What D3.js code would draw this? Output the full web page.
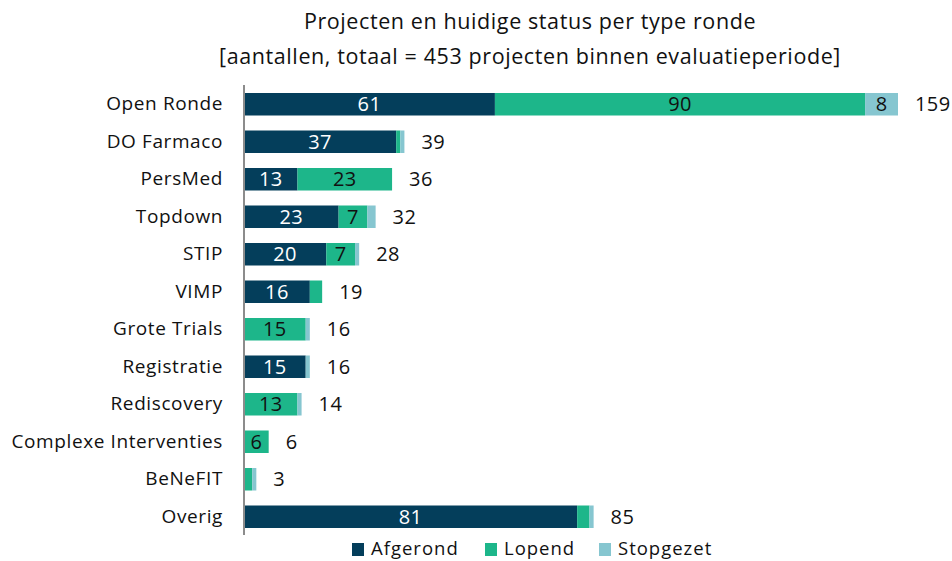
<!DOCTYPE html>
<html><head><meta charset="utf-8">
<script src="https://cdn.jsdelivr.net/npm/d3@7"></script>
<style>body{margin:0;background:#fff}svg{display:block}</style>
</head><body>
<svg id="c" width="952" height="561"></svg>
<script>
const categories = ["Open Ronde","DO Farmaco","PersMed","Topdown","STIP","VIMP","Grote Trials","Registratie","Rediscovery","Complexe Interventies","BeNeFIT","Overig"];
const afgerond  = [61,37,13,23,20,16,0,15,0,0,0,81];
const lopend    = [90,1,23,7,7,3,15,0,13,6,2,3];
const stopgezet = [8,1,0,2,1,0,1,1,1,0,1,1];
const seriesNames = ["Afgerond","Lopend","Stopgezet"];
const colors = ["#043e5b","#1db68a","#86c6d0"];
const labelColors = ["#ffffff","#111111","#111111"];
const titleLines = ["Projecten en huidige status per type ronde","[aantallen, totaal = 453 projecten binnen evaluatieperiode]"];

const font = "'Open Sans', sans-serif";
const svg = d3.select("#c");
const rows = categories.map((c,i)=>({cat:c, Afgerond:afgerond[i], Lopend:lopend[i], Stopgezet:stopgezet[i]}));
const stack = d3.stack().keys(seriesNames)(rows);

const x = d3.scaleLinear().domain([0,159]).range([244,898]);
const y = d3.scaleBand().domain(categories).range([85.5,535.5]).paddingInner(0.4).paddingOuter(0.2);

svg.append("g").selectAll("text").data(titleLines).join("text")
  .attr("x",530).attr("y",(d,i)=>29+i*35).attr("text-anchor","middle")
  .attr("font-family",font).attr("font-size",21.5).attr("letter-spacing",0.6)
  .attr("fill","#111").text(d=>d);

stack.forEach((s,si)=>{
  const g = svg.append("g");
  g.selectAll("rect").data(s).join("rect")
    .attr("x",d=>x(d[0])).attr("width",d=>Math.max(0,x(d[1])-x(d[0])))
    .attr("y",(d,i)=>y(categories[i])).attr("height",y.bandwidth())
    .attr("fill",colors[si]);
  g.selectAll("text").data(s.filter(d=>d[1]-d[0]>=5)).join("text")
    .attr("x",d=>(x(d[0])+x(d[1]))/2)
    .attr("y",d=>y(d.data.cat)+y.bandwidth()/2).attr("dy","0.36em")
    .attr("text-anchor","middle").attr("font-family",font).attr("font-size",20)
    .attr("letter-spacing",0.4)
    .attr("fill",labelColors[si]).text(d=>d[1]-d[0]);
});

// totals
svg.append("g").selectAll("text").data(rows).join("text")
  .attr("x",d=>x(d.Afgerond+d.Lopend+d.Stopgezet)+17)
  .attr("y",d=>y(d.cat)+y.bandwidth()/2).attr("dy","0.36em")
  .attr("font-family",font).attr("font-size",20).attr("letter-spacing",0.4).attr("fill","#111")
  .text(d=>d.Afgerond+d.Lopend+d.Stopgezet);

// category axis
const yAxis = svg.append("g").attr("transform","translate(244,0)")
  .call(d3.axisLeft(y).tickSize(0).tickPadding(21));
yAxis.select(".domain").attr("stroke","#8c8c8c").attr("stroke-width",2)
  .attr("d","M0,85V535");
yAxis.selectAll("text").attr("font-family",font).attr("font-size",19)
  .attr("letter-spacing",0.6).attr("fill","#111");

// legend
const legX = [352,485,599];
const lg = svg.append("g");
seriesNames.forEach((n,i)=>{
  lg.append("rect").attr("x",legX[i]).attr("y",543).attr("width",12).attr("height",13).attr("fill",colors[i]);
  lg.append("text").attr("x",legX[i]+19).attr("y",548.5).attr("dy","0.36em")
    .attr("font-family",font).attr("font-size",18.5).attr("letter-spacing",1)
    .attr("fill","#111").text(n);
});
</script>
</body></html>
